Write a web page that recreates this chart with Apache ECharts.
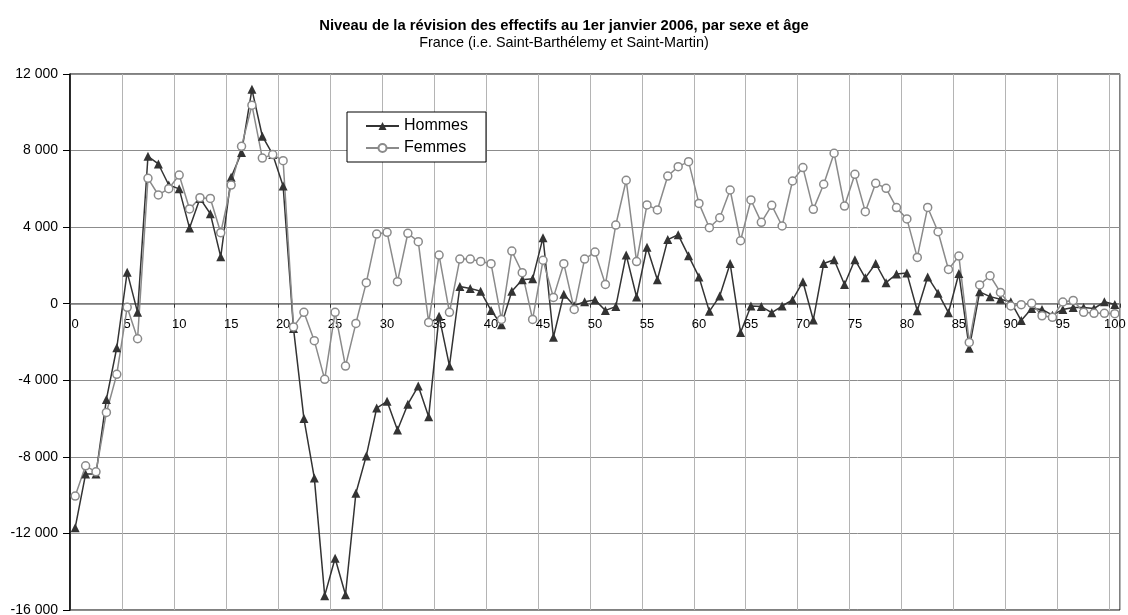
<!DOCTYPE html>
<html>
<head>
<meta charset="utf-8">
<title>Niveau de la révision des effectifs</title>
<script src="https://cdn.jsdelivr.net/npm/echarts@6/dist/echarts.min.js"></script>
<style>
  html, body { margin: 0; padding: 0; background: #fff; }
  #chart { width: 1128px; height: 615px; }
</style>
</head>
<body>
<div id="chart"></div>
<script>
// ages 0..100
var ages = [];
for (var a = 0; a <= 100; a++) ages.push(String(a));

var hommes = [
  -11700, -8900, -8900, -5000, -2300, 1650, -450, 7700, 7300, 6200,
  6000, 3950, 5500, 4700, 2450, 6600, 7900, 11200, 8750, 7800,
  6150, -1300, -6000, -9100, -15250, -13300, -15200, -9900, -7950, -5450,
  -5100, -6600, -5250, -4300, -5900, -650, -3250, 900, 800, 650,
  -350, -1100, 650, 1250, 1300, 3450, -1750, 500, -100, 100,
  200, -350, -150, 2550, 350, 2950, 1250, 3350, 3600, 2500,
  1400, -400, 400, 2100, -1500, -120, -150, -470, -120, 200,
  1150, -850, 2100, 2300, 1000, 2300, 1350, 2100, 1100, 1550,
  1600, -370, 1400, 550, -470, 1580, -2330, 620, 370, 230,
  100, -880, -250, -300, -600, -300, -200, -200, -250, 100,
  -40
];

var femmes = [
  -10050, -8470, -8780, -5680, -3690, -190, -1830, 6550, 5680, 6010,
  6720, 4950, 5540, 5500, 3710, 6200, 8220, 10370, 7610, 7790,
  7470, -1210, -450, -1930, -3950, -450, -3260, -1030, 1100, 3640,
  3730, 1150, 3680, 3240, -980, 2540, -450, 2330, 2330, 2210,
  2090, -820, 2750, 1620, -820, 2270, 330, 2090, -300, 2330,
  2700, 1010, 4110, 6450, 2200, 5160, 4900, 6670, 7160, 7420,
  5240, 3970, 4490, 5940, 3290, 5420, 4250, 5140, 4060, 6410,
  7110, 4930, 6240, 7860, 5100, 6760, 4810, 6290, 6030, 5020,
  4430, 2420, 5030, 3760, 1790, 2490, -2020, 980, 1460, 590,
  -120, -50, 20, -630, -710, 90, 170, -450, -500, -500,
  -520
];

var font = 'Arial, "Liberation Sans", sans-serif';

function fmt(v) {
  return String(v).replace(/\B(?=(\d{3})+(?!\d))/g, ' ');
}

// plot area: top 74, bottom 610 -> zero line sits 12/28 of the way down
var gridTop = 74, gridBottom = 5, chartH = 615;
var plotH = chartH - gridTop - gridBottom;
var zeroOffset = -plotH * 16 / 28;

var chart = echarts.init(document.getElementById('chart'));
var option = {
  animation: false,
  backgroundColor: '#fff',
  title: {
    text: 'Niveau de la révision des effectifs au 1er janvier 2006, par sexe et âge',
    subtext: 'France (i.e. Saint-Barthélemy et Saint-Martin)',
    left: 'center',
    top: 13,
    itemGap: 3,
    textStyle: { fontFamily: font, fontSize: 14.8, fontWeight: 'bold', color: '#000' },
    subtextStyle: { fontFamily: font, fontSize: 14.4, color: '#000' }
  },
  legend: {
    orient: 'vertical',
    left: 347,
    top: 112,
    padding: [6, 18, 6, 18],
    itemGap: 6,
    itemWidth: 33,
    itemHeight: 10,
    borderColor: '#000',
    borderWidth: 1,
    backgroundColor: '#fff',
    textStyle: { fontFamily: font, fontSize: 16, color: '#000' },
    data: ['Hommes', 'Femmes']
  },
  grid: {
    left: 70,
    right: 8,
    top: gridTop,
    bottom: gridBottom,
    outerBoundsMode: 'none',
    containLabel: false,
    show: true,
    borderColor: '#000',
    borderWidth: 1
  },
  xAxis: {
    type: 'category',
    data: ages,
    boundaryGap: true,
    offset: zeroOffset,
    axisLine: { show: true, onZero: false, lineStyle: { color: '#777', width: 1.5 } },
    axisTick: { show: true, interval: 4, length: 4, lineStyle: { color: '#333' } },
    axisLabel: { interval: 4, margin: 14, fontFamily: font, fontSize: 13, color: '#000' },
    splitLine: { show: true, interval: 4, lineStyle: { color: '#b4b4b4', width: 1 } }
  },
  yAxis: {
    type: 'value',
    min: -16000,
    max: 12000,
    interval: 4000,
    axisLine: { show: true, onZero: false, lineStyle: { color: '#000', width: 1.5 } },
    axisTick: { show: true, length: 7, lineStyle: { color: '#000' } },
    axisLabel: { margin: 12, fontFamily: font, fontSize: 14, color: '#000', formatter: fmt },
    splitLine: { show: true, lineStyle: { color: '#8c8c8c', width: 1 } }
  },
  series: [
    {
      name: 'Hommes',
      type: 'line',
      data: hommes,
      symbol: 'triangle',
      symbolSize: 9,
      showAllSymbol: true,
      lineStyle: { color: '#333', width: 1.5 },
      itemStyle: { color: '#333', borderColor: '#333', borderWidth: 0 }
    },
    {
      name: 'Femmes',
      type: 'line',
      data: femmes,
      symbol: 'circle',
      symbolSize: 8,
      showAllSymbol: true,
      lineStyle: { color: '#8a8a8a', width: 1.5 },
      itemStyle: { color: '#fff', borderColor: '#8a8a8a', borderWidth: 1.5 }
    }
  ]
};
chart.setOption(option);
</script>
</body>
</html>
